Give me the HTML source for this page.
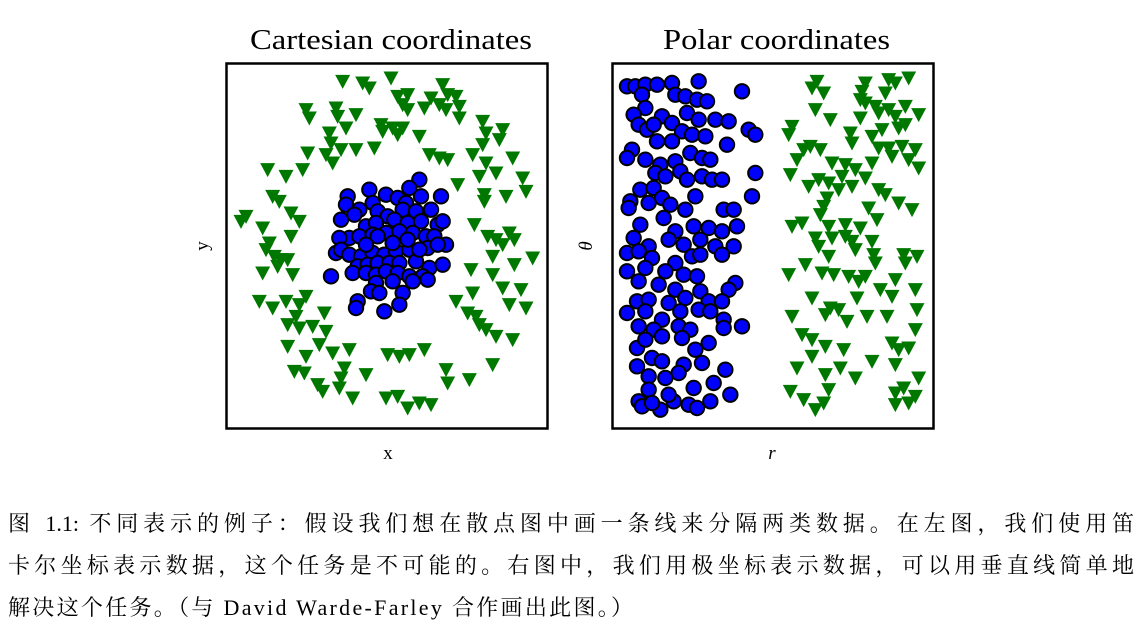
<!DOCTYPE html>
<html><head><meta charset="utf-8">
<style>
body{margin:0;background:#fff;width:1138px;height:631px;overflow:hidden;font-family:"Liberation Serif","Noto Serif CJK SC",serif;}
#cap{position:absolute;left:8px;top:503px;width:1126px;font-size:22px;line-height:42px;color:#000;}
#cap div{text-align:justify;text-align-last:justify;white-space:nowrap;}
#cap div.last{text-align-last:left;letter-spacing:2.3px;}
</style></head><body>
<svg id="fig" width="1138" height="490" style="position:absolute;left:0;top:0" xmlns="http://www.w3.org/2000/svg">
<text x="250" y="49" font-size="28" textLength="282" lengthAdjust="spacingAndGlyphs" font-family="Liberation Serif, serif">Cartesian coordinates</text>
<text x="663" y="49" font-size="28" textLength="227" lengthAdjust="spacingAndGlyphs" font-family="Liberation Serif, serif">Polar coordinates</text>
<text x="388" y="459" font-size="19" text-anchor="middle" font-family="Liberation Serif, serif">x</text>
<text x="772" y="459" font-size="19" font-style="italic" text-anchor="middle" font-family="Liberation Serif, serif">r</text>
<text transform="translate(208,246) rotate(-90)" font-size="19" text-anchor="middle" font-family="Liberation Serif, serif">y</text>
<text transform="translate(592,246) rotate(-90)" font-size="19" font-style="italic" text-anchor="middle" font-family="Liberation Serif, serif">θ</text>
<g id="left"></g>
<g id="right"></g>
<rect x="226.5" y="63.5" width="321" height="365" fill="none" stroke="#000" stroke-width="2.5"/>
<rect x="612.5" y="63.5" width="321" height="365" fill="none" stroke="#000" stroke-width="2.5"/>
</svg>
<div id="cap">
<div>图 1.1: 不同表示的例子：假设我们想在散点图中画一条线来分隔两类数据。在左图，我们使用笛</div>
<div>卡尔坐标表示数据，这个任务是不可能的。右图中，我们用极坐标表示数据，可以用垂直线简单地</div>
<div class="last">解决这个任务。（与 David Warde-Farley 合作画出此图。）</div>
</div>
<script>
const leftGreenX=[350,410,430,495,515,545,530,545,595,615,650,665,690,660,700,700,640,240,250,330,335,360,390,465,470,500,530,515,445,580,310,315,320,345,390,300,245,230,180,125,610,640,665,695,740,770,780,830,770,820,780,810,760,860,890,900,840,775,775,45,60,110,140,160,195,220,195,130,120,145,165,185,110,200,155,745,785,810,850,865,830,920,800,865,735,800,830,885,740,690,850,900,100,140,180,220,240,210,260,185,220,295,300,280,185,240,320,370,485,520,550,595,205,235,275,290,340,355,345,420,380,480,515,545,580,615,660,665,730,800,725,750,780,810,860,760];
const leftGreenY=[55,60,75,45,100,95,125,140,135,105,65,95,100,140,130,165,125,140,165,135,160,195,155,185,205,195,195,215,255,220,210,240,300,260,260,275,270,320,340,320,275,285,290,365,275,175,210,200,245,230,300,330,340,285,345,385,400,395,415,475,460,495,400,415,450,475,520,540,560,580,590,590,630,635,610,485,520,530,510,530,545,585,580,605,620,635,675,680,690,715,725,735,715,735,715,725,700,760,790,785,795,750,805,845,850,880,870,860,875,880,875,860,925,930,965,985,975,915,945,935,1005,1005,1000,1035,1020,1025,920,960,950,905,750,760,800,820,830,785];
const leftBlueX=[580,645,585,550,430,365,360,480,515,540,440,400,455,485,530,570,615,345,385,420,450,505,545,585,635,650,370,340,400,440,480,520,560,600,625,660,330,345,370,405,440,475,510,550,605,635,395,425,455,490,520,570,610,650,380,420,450,480,515,550,590,560,500,450,435,460,530,605,315,395,390,475,520,455,500,420,545,580];
const leftBlueY=[350,400,400,375,380,400,425,395,405,420,420,440,445,460,440,445,440,470,455,490,480,470,480,475,485,475,525,525,520,515,510,505,510,520,520,545,570,560,575,580,570,575,565,560,555,545,610,605,600,600,600,595,615,605,630,630,635,625,630,640,640,655,655,660,685,690,690,650,640,715,735,745,725,520,540,545,530,560];
const rightBlueX=[45,70,100,135,180,260,390,90,190,220,255,285,100,65,150,180,225,260,310,350,80,105,125,210,240,280,410,430,345,135,180,60,45,100,145,190,235,270,295,430,130,160,205,225,270,300,330,420,85,125,150,250,55,50,110,175,220,335,365,85,155,190,245,290,330,375,65,110,170,215,265,310,365,45,80,120,190,240,265,330,45,100,160,215,255,370,80,140,190,265,350,75,110,170,220,290,330,45,100,150,205,260,295,335,390,80,125,200,235,335,75,100,150,210,250,290,120,150,215,270,340,75,110,160,200,305,110,245,355,80,90,145,185,230,255,295,170,120];
const rightBlueY=[70,70,65,65,60,55,85,95,95,100,110,115,135,155,160,180,150,170,170,175,185,200,185,205,215,220,200,215,245,235,235,260,285,290,305,295,270,285,290,330,330,340,325,350,340,350,350,400,380,375,405,400,415,435,420,425,440,440,440,485,465,505,490,495,505,490,525,550,530,545,530,550,550,570,565,585,600,580,575,575,625,615,625,635,640,660,655,665,680,685,680,715,710,720,705,715,715,750,745,770,745,740,745,770,790,790,800,790,800,795,855,830,820,825,860,840,885,895,905,900,920,910,940,945,930,960,980,975,995,1015,1030,1040,1015,1025,1035,1015,995,1020];
const rightGreenX=[615,600,635,760,750,830,850,890,820,745,760,790,610,655,745,800,830,880,920,850,880,540,530,715,780,810,860,870,910,830,800,720,625,575,595,555,660,700,780,840,890,920,535,590,620,650,690,730,760,720,680,800,820,860,900,645,635,770,625,540,570,650,700,745,795,610,660,700,720,780,620,650,730,785,790,875,915,880,580,530,630,665,710,740,760,850,805,840,910,600,735,655,640,680,705,765,825,915,540,570,600,640,695,780,860,840,890,910,600,555,640,685,730,850,920,535,575,610,635,650,850,875,910,850,890];
const rightGreenY=[55,75,90,60,85,50,60,45,90,110,120,130,140,170,165,150,140,130,155,160,185,190,215,210,220,200,195,250,260,255,255,240,260,260,250,290,300,305,300,280,290,315,335,370,350,360,340,320,345,370,380,380,395,420,440,405,430,435,455,490,480,490,485,495,470,525,525,520,535,535,550,580,560,575,600,575,580,600,605,635,630,635,640,655,640,650,680,700,680,705,705,735,755,740,775,760,760,740,760,815,830,850,860,895,860,840,855,800,880,915,935,915,945,905,945,985,1010,1040,1020,980,990,975,1000,1025,1020];

function panel(left){return {x:v=>left+v/966*322, y:v=>63+v/1098*366};}
const NS='http://www.w3.org/2000/svg';
function tri(g,cx,cy){
  const p=document.createElementNS(NS,'polygon');
  p.setAttribute('points',(cx-7.5)+','+(cy-6.5)+' '+(cx+7.5)+','+(cy-6.5)+' '+cx+','+(cy+7.5));
  p.setAttribute('fill','#007800');
  
  
  g.appendChild(p);
}
function circ(g,cx,cy){
  const c=document.createElementNS(NS,'circle');
  c.setAttribute('cx',cx);c.setAttribute('cy',cy);c.setAttribute('r',7.2);
  c.setAttribute('fill','#0000ff');c.setAttribute('stroke','#000');c.setAttribute('stroke-width','2');
  
  
  g.appendChild(c);
}
const L=panel(226),R=panel(612);
const gl=document.getElementById('left'),gr=document.getElementById('right');
leftGreenX.forEach((v,i)=>tri(gl,L.x(v),L.y(leftGreenY[i])));
leftBlueX.forEach((v,i)=>circ(gl,L.x(v),L.y(leftBlueY[i])));
rightGreenX.forEach((v,i)=>tri(gr,R.x(v),R.y(rightGreenY[i])));
rightBlueX.forEach((v,i)=>circ(gr,R.x(v),R.y(rightBlueY[i])));
</script>
</body></html>
